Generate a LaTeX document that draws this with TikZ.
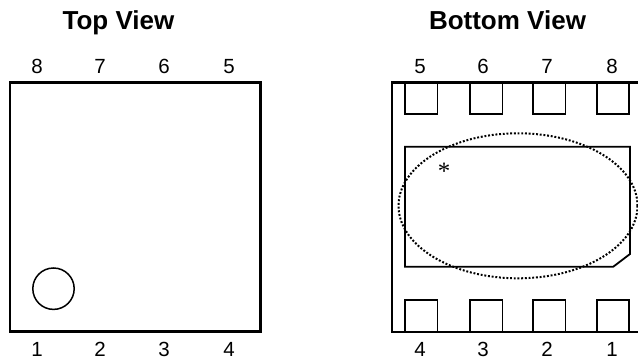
\documentclass[tikz,border=0pt]{standalone}
\usepackage{fontspec}
\setmainfont{Liberation Sans}
\newfontfamily\seriffont{Liberation Serif}
\tikzset{
  px/.style={x=1pt,y=-1pt},
  outline/.style={draw=black,line width=2.3pt},
  padbox/.style={draw=black,line width=1.6pt},
  dotline/.style={draw=black,line width=2pt,dash pattern=on 1.9pt off 1.8pt},
  pin/.style={font=\fontsize{20.5}{22}\selectfont,text=black,inner sep=0pt,anchor=base},
  viewtitle/.style={font=\bfseries\fontsize{26}{28}\selectfont,text=black,inner sep=0pt,anchor=base}
}
\begin{document}
\begin{tikzpicture}[px]
\useasboundingbox (0,0) rectangle (638,359);
\node[viewtitle] (t1) at (118.5,29.5) {Top View};
\node[viewtitle] (t2) at (507.5,29.5) {Bottom View};
\draw[outline] (10,82.5) rectangle (260.5,331.5);
\draw[line width=1.5pt] (53.5,288.7) circle (20.7);
\foreach \n/\x in {8/37,7/100,6/164,5/229}{\node[pin] (u\n) at (\x,73.3) {\n};}
\foreach \n/\x in {1/37,2/100,3/164,4/229}{\node[pin] (l\n) at (\x,356.2) {\n};}
\draw[outline] (640,82.5) -- (392,82.5) -- (392,332) -- (640,332);
\foreach \a in {405,470,533,596.7}{
  \draw[padbox] (\a,82.5) rectangle (\a+32.5,114);
  \draw[padbox] (\a,300) rectangle (\a+32.5,332);
}
\draw[padbox,line width=1.8pt] (405,146.7) -- (630,146.7) -- (630,254) -- (613.3,266.7) -- (405,266.7) -- cycle;
\draw[dotline] (518,205.8) ellipse (119.5 and 72.5);
\node[inner sep=0pt,font=\seriffont\fontsize{25}{26}\selectfont] (star) at (444,171.5) {*};
\foreach \n/\x in {5/420,6/483,7/547,8/612}{\node[pin] (a\n) at (\x,73.3) {\n};}
\foreach \n/\x in {4/420,3/483,2/547,1/612}{\node[pin] (b\n) at (\x,356.2) {\n};}
\end{tikzpicture}
\end{document}
